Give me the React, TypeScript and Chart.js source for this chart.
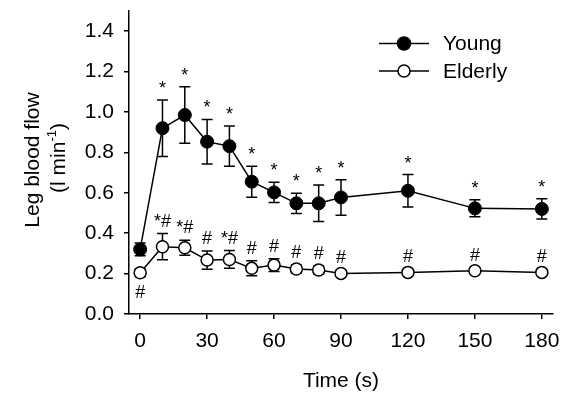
import React, { useEffect, useRef } from "react";
import { Chart, registerables } from "chart.js";

Chart.register(...registerables);

const times = [0, 10, 20, 30, 40, 50, 60, 70, 80, 90, 120, 150, 180];
const youngMean = [0.32, 0.92, 0.985, 0.853, 0.831, 0.655, 0.602, 0.548, 0.548, 0.577, 0.61, 0.523, 0.52];
const youngSem = [0.032, 0.14, 0.14, 0.11, 0.1, 0.077, 0.05, 0.05, 0.09, 0.088, 0.08, 0.042, 0.05];
const elderlyMean = [0.204, 0.333, 0.328, 0.267, 0.27, 0.226, 0.242, 0.223, 0.218, 0.201, 0.206, 0.214, 0.206];
const elderlySem = [0.02, 0.065, 0.037, 0.045, 0.044, 0.037, 0.032, 0.02, 0.02, 0.015, 0.015, 0.015, 0.015];
const youngMarks = ["", "*", "*", "*", "*", "*", "*", "*", "*", "*", "*", "*", "*"];
const elderlyMarksAbove = ["", "*#", "*#", "#", "*#", "#", "#", "#", "#", "#", "#", "#", "#"];
const elderlyMarksBelow = ["#", "", "", "", "", "", "", "", "", "", "", "", ""];
const xTicks = [0, 30, 60, 90, 120, 150, 180];
const yTicks = [0, 0.2, 0.4, 0.6, 0.8, 1.0, 1.2, 1.4];
const seriesNames = ["Young", "Elderly"];
const xTitle = "Time (s)";
const yTitle1 = "Leg blood flow";

const FONT = "'Liberation Sans', Arial, sans-serif";

const extras = {
  id: "extras",
  beforeDatasetsDraw(chart: any) {
    const ctx = chart.ctx;
    const xs = chart.scales.x;
    const ys = chart.scales.y;
    const sets = [
      [youngMean, youngSem],
      [elderlyMean, elderlySem],
    ];
    ctx.save();
    ctx.strokeStyle = "#000";
    ctx.lineWidth = 1.5;
    sets.forEach(([m, s]) => {
      times.forEach((t, i) => {
        const x = xs.getPixelForValue(t);
        const yt = ys.getPixelForValue(m[i] + s[i]);
        const yb = ys.getPixelForValue(m[i] - s[i]);
        ctx.beginPath();
        ctx.moveTo(x, yt);
        ctx.lineTo(x, yb);
        ctx.moveTo(x - 5.5, yt);
        ctx.lineTo(x + 5.5, yt);
        ctx.moveTo(x - 5.5, yb);
        ctx.lineTo(x + 5.5, yb);
        ctx.stroke();
      });
    });
    ctx.restore();
  },
  afterDatasetsDraw(chart: any) {
    const ctx = chart.ctx;
    const xs = chart.scales.x;
    const ys = chart.scales.y;
    ctx.save();
    ctx.fillStyle = "#000";
    ctx.font = `18px ${FONT}`;
    ctx.textAlign = "center";
    ctx.textBaseline = "alphabetic";
    times.forEach((t, i) => {
      const x = xs.getPixelForValue(t);
      if (youngMarks[i]) {
        ctx.fillText(youngMarks[i], x, ys.getPixelForValue(youngMean[i] + youngSem[i]) - 6);
      }
      if (elderlyMarksAbove[i]) {
        ctx.fillText(elderlyMarksAbove[i], x, ys.getPixelForValue(elderlyMean[i] + elderlySem[i]) - 7);
      }
      if (elderlyMarksBelow[i]) {
        ctx.fillText(elderlyMarksBelow[i], x, ys.getPixelForValue(elderlyMean[i] - elderlySem[i]) + 21);
      }
    });

    // legend
    const legendY = [43.5, 71];
    ctx.lineWidth = 1.5;
    ctx.strokeStyle = "#000";
    seriesNames.forEach((name, k) => {
      const y = legendY[k];
      ctx.beginPath();
      ctx.moveTo(379, y);
      ctx.lineTo(429, y);
      ctx.stroke();
      ctx.beginPath();
      ctx.arc(404, y, k === 0 ? 6.5 : 6, 0, Math.PI * 2);
      ctx.fillStyle = k === 0 ? "#000" : "#fff";
      ctx.fill();
      ctx.stroke();
      ctx.fillStyle = "#000";
      ctx.font = `21px ${FONT}`;
      ctx.textAlign = "left";
      ctx.textBaseline = "middle";
      ctx.fillText(name, 443, y + 1);
    });

    // x title
    ctx.font = `21px ${FONT}`;
    ctx.textAlign = "center";
    ctx.textBaseline = "middle";
    ctx.fillText(xTitle, 341, 381);

    // y title
    ctx.save();
    ctx.translate(33, 160);
    ctx.rotate(-Math.PI / 2);
    ctx.fillText(yTitle1, 0, 0);
    ctx.restore();

    ctx.save();
    ctx.translate(59, 158);
    ctx.rotate(-Math.PI / 2);
    const p1 = "(l min";
    const sup = "-1";
    const p2 = ")";
    ctx.font = `21px ${FONT}`;
    const w1 = ctx.measureText(p1).width;
    const w3 = ctx.measureText(p2).width;
    ctx.font = `13px ${FONT}`;
    const w2 = ctx.measureText(sup).width;
    const total = w1 + w2 + w3;
    let cx = -total / 2;
    ctx.textAlign = "left";
    ctx.font = `21px ${FONT}`;
    ctx.fillText(p1, cx, 0);
    cx += w1;
    ctx.font = `13px ${FONT}`;
    ctx.fillText(sup, cx, -7);
    cx += w2;
    ctx.font = `21px ${FONT}`;
    ctx.fillText(p2, cx, 0);
    ctx.restore();

    ctx.restore();
  },
};

export default function App() {
  const ref = useRef<HTMLCanvasElement | null>(null);
  useEffect(() => {
    if (!ref.current) return;
    const chart = new Chart(ref.current, {
      type: "line",
      data: {
        datasets: [
          {
            label: seriesNames[0],
            data: times.map((t, i) => ({ x: t, y: youngMean[i] })),
            borderColor: "#000",
            borderWidth: 1.5,
            pointRadius: 6.5,
            pointBackgroundColor: "#000",
            pointBorderColor: "#000",
            pointBorderWidth: 1,
            fill: false,
            tension: 0,
          },
          {
            label: seriesNames[1],
            data: times.map((t, i) => ({ x: t, y: elderlyMean[i] })),
            borderColor: "#000",
            borderWidth: 1.5,
            pointRadius: 6,
            pointBackgroundColor: "#fff",
            pointBorderColor: "#000",
            pointBorderWidth: 1.5,
            fill: false,
            tension: 0,
          },
        ],
      },
      options: {
        animation: false,
        responsive: true,
        maintainAspectRatio: false,
        layout: { padding: { left: 0, top: 11, right: 16, bottom: 0 } },
        plugins: { legend: { display: false }, tooltip: { enabled: false } },
        scales: {
          x: {
            type: "linear",
            min: -5,
            max: 185,
            afterBuildTicks: (s: any) => {
              s.ticks = xTicks.map((v) => ({ value: v }));
            },
            afterFit: (s: any) => {
              s.height = 81;
              s.paddingLeft = 0;
              s.paddingRight = 0;
            },
            ticks: {
              font: { size: 21, family: FONT },
              color: "#000",
              padding: 10,
              maxRotation: 0,
              autoSkip: false,
            },
            grid: {
              drawOnChartArea: false,
              drawTicks: true,
              tickLength: 5,
              color: "#000",
              lineWidth: 1.5,
            },
            border: { color: "#000", width: 1.5 },
          },
          y: {
            min: 0,
            max: 1.5,
            afterBuildTicks: (s: any) => {
              s.ticks = yTicks.map((v) => ({ value: v }));
            },
            afterFit: (s: any) => {
              s.width = 129;
              s.paddingTop = 0;
              s.paddingBottom = 0;
            },
            ticks: {
              font: { size: 21, family: FONT },
              color: "#000",
              padding: 10,
              callback: (v: any) => Number(v).toFixed(1),
            },
            grid: {
              drawOnChartArea: false,
              drawTicks: true,
              tickLength: 5,
              color: "#000",
              lineWidth: 1.5,
            },
            border: { color: "#000", width: 1.5 },
          },
        },
      },
      plugins: [extras],
    });
    return () => chart.destroy();
  }, []);
  return (
    <div style={{ position: "fixed", left: 0, top: 0, width: 569, height: 395, background: "#fff" }}>
      <canvas ref={ref} />
    </div>
  );
}
